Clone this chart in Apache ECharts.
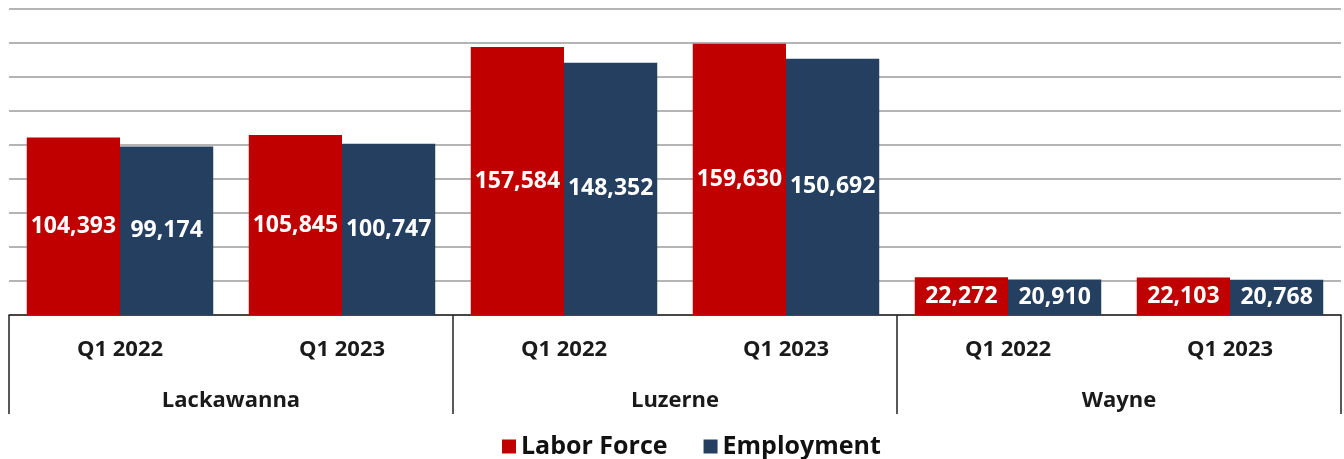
<!DOCTYPE html>
<html>
<head>
<meta charset="utf-8">
<script src="https://cdn.jsdelivr.net/npm/echarts@6/dist/echarts.min.js"></script>
<style>
  html, body { margin: 0; padding: 0; background: #fff; }
  #chart { width: 1344px; height: 459px; }
</style>
</head>
<body>
<div id="chart"></div>
<script>
// data
var quarters = ['Q1 2022', 'Q1 2023', 'Q1 2022', 'Q1 2023', 'Q1 2022', 'Q1 2023'];
var counties = ['Lackawanna', 'Luzerne', 'Wayne'];
var laborForce = [104393, 105845, 157584, 159630, 22272, 22103];
var employment = [99174, 100747, 148352, 150692, 20910, 20768];

var labelFont = '"Open Sans", "Noto Sans", sans-serif';
var axisFont = '"Open Sans", "Noto Sans", sans-serif';

var chart = echarts.init(document.getElementById('chart'));

function fmt(p) {
  return p.value.toLocaleString('en-US');
}

chart.setOption({
  animation: false,
  grid: { left: 9, right: 3, top: 9, bottom: 144 },
  legend: {
    bottom: -5,
    left: 497,
    icon: 'rect',
    itemWidth: 14,
    itemHeight: 14,
    itemGap: 36,
    textStyle: { fontSize: 25, fontWeight: 'bold', color: '#111', fontFamily: axisFont },
    data: ['Labor Force', 'Employment']
  },
  xAxis: [
    {
      type: 'category',
      data: quarters,
      position: 'bottom',
      axisLine: { show: true, lineStyle: { color: '#222', width: 1.5 } },
      axisTick: { show: false },
      axisLabel: { margin: 24, fontSize: 22, fontWeight: 'bold', color: '#1a1a1a', fontFamily: axisFont }
    },
    {
      type: 'category',
      data: counties,
      position: 'bottom',
      axisLine: { show: false },
      axisTick: { show: true, length: 99, lineStyle: { color: '#222', width: 1.5 } },
      axisLabel: { margin: 75, fontSize: 22, fontWeight: 'bold', color: '#1a1a1a', fontFamily: axisFont }
    }
  ],
  yAxis: {
    type: 'value',
    min: 0,
    max: 180000,
    interval: 20000,
    axisLabel: { show: false },
    axisLine: { show: false },
    axisTick: { show: false },
    splitLine: { lineStyle: { color: '#B4B4B4', width: 2 } }
  },
  series: [
    {
      name: 'Labor Force',
      type: 'bar',
      xAxisIndex: 0,
      data: laborForce,
      barGap: '0%',
      barCategoryGap: '16%',
      itemStyle: { color: '#C00000' },
      label: {
        show: true, position: 'inside', formatter: fmt,
        color: '#fff', fontSize: 23, fontWeight: 'bold', fontFamily: labelFont
      }
    },
    {
      name: 'Employment',
      type: 'bar',
      xAxisIndex: 0,
      data: employment,
      itemStyle: { color: '#243F60' },
      label: {
        show: true, position: 'inside', formatter: fmt,
        color: '#fff', fontSize: 23, fontWeight: 'bold', fontFamily: labelFont
      }
    }
  ]
});
</script>
</body>
</html>
